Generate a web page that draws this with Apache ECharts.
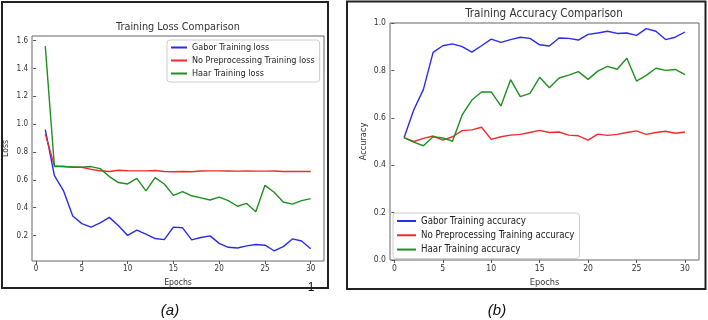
<!DOCTYPE html>
<html><head><meta charset="utf-8">
<script src="https://cdn.jsdelivr.net/npm/echarts@6/dist/echarts.min.js"></script>
<style>html,body{margin:0;padding:0;background:#fff}#c{width:708px;height:320px}</style>
</head><body><div id="c"></div>
<script>
const epochs = Array.from({length: 30}, (_, i) => i + 1);
const xTicks = [0, 5, 10, 15, 20, 25, 30];
const lossTicks = [0.2, 0.4, 0.6, 0.8, 1.0, 1.2, 1.4, 1.6];
const accTicks = [0.0, 0.2, 0.4, 0.6, 0.8, 1.0];

const gaborLoss = [0.96,0.63,0.52,0.34,0.285,0.26,0.29,0.33,0.27,0.20,0.238,0.21,0.178,0.17,0.26,0.255,0.168,0.185,0.197,0.143,0.115,0.11,0.125,0.135,0.13,0.09,0.12,0.175,0.16,0.105];
const noPreLoss = [0.93,0.70,0.695,0.69,0.69,0.675,0.665,0.66,0.668,0.665,0.664,0.664,0.667,0.66,0.658,0.66,0.658,0.663,0.664,0.664,0.663,0.662,0.663,0.662,0.662,0.663,0.66,0.66,0.66,0.66];
const haarLoss = [1.56,0.695,0.695,0.693,0.69,0.695,0.68,0.623,0.58,0.57,0.61,0.52,0.615,0.57,0.488,0.515,0.485,0.47,0.455,0.475,0.45,0.41,0.43,0.37,0.56,0.51,0.44,0.425,0.45,0.465];

const gaborAcc = [0.516,0.633,0.72,0.876,0.904,0.912,0.90,0.877,0.904,0.932,0.918,0.93,0.94,0.935,0.908,0.903,0.937,0.935,0.928,0.952,0.958,0.965,0.956,0.958,0.948,0.976,0.965,0.93,0.94,0.962];
const noPreAcc = [0.516,0.50,0.513,0.523,0.506,0.52,0.546,0.549,0.56,0.509,0.52,0.527,0.53,0.538,0.547,0.538,0.54,0.527,0.524,0.506,0.531,0.526,0.53,0.538,0.545,0.53,0.538,0.543,0.535,0.54];
const haarAcc = [0.516,0.497,0.482,0.52,0.515,0.501,0.612,0.675,0.709,0.709,0.65,0.761,0.689,0.703,0.771,0.727,0.768,0.78,0.795,0.762,0.797,0.817,0.805,0.851,0.755,0.779,0.809,0.80,0.804,0.782];

const BLUE = '#2b2bef', RED = '#ef2b2b', GREEN = '#1f8f1f';
const FONT = '"DejaVu Sans Condensed", "DejaVu Sans", sans-serif';
const TXT = '#333';
const S = [1, 1.07]; // per-panel text scale

function pairs(v){ return epochs.map((e,i)=>[e,v[i]]); }
function xAx(gi){
  const s = S[gi];
  return {type:'value', gridIndex:gi, min:-0.45, max:31.45,
    name:'Epochs', nameLocation:'middle', nameGap:16,
    nameTextStyle:{fontFamily:FONT,fontSize:8.6*s,color:TXT},
    axisLine:{show:false}, splitLine:{show:false},
    axisTick:{show:true, inside:false, length:3, customValues:xTicks, lineStyle:{color:'#555'}},
    axisLabel:{customValues:xTicks, fontFamily:FONT, fontSize:8*s, color:TXT, margin:4}};
}
function yAx(gi,min,max,ticks,name,gap){
  const s = S[gi];
  return {type:'value', gridIndex:gi, min:min, max:max, name:name, nameLocation:'middle', nameGap:gap,
    nameTextStyle:{fontFamily:FONT,fontSize:8.6*s,color:TXT},
    axisLine:{show:false}, splitLine:{show:false},
    axisTick:{show:true, inside:false, length:3, customValues:ticks, lineStyle:{color:'#555'}},
    axisLabel:{customValues:ticks, fontFamily:FONT, fontSize:8*s, color:TXT, margin:4,
      formatter:v=>Number(v).toFixed(1)}};
}
function ser(name,data,color,gi){
  return {name:name, type:'line', xAxisIndex:gi, yAxisIndex:gi, data:pairs(data), symbol:'none',
    lineStyle:{color:color,width:1.4}, itemStyle:{color:color}, z:3};
}
function legend(gi, left, top, names, iw){
  const s = S[gi];
  return {orient:'vertical', left:left, top:top, data:names,
    itemWidth:iw, itemHeight:9*s, itemGap:4*s, itemStyle:{opacity:0},
    backgroundColor:'rgba(255,255,255,0.8)', borderColor:'#ccc', borderWidth:1, borderRadius:3,
    padding:[3,5,4,3], textStyle:{fontFamily:FONT,fontSize:9*s,color:'#222'}};
}

const chart = echarts.init(document.getElementById('c'), null, {renderer:'canvas'});
chart.setOption({
  animation:false,
  title:[
    {text:'Training Loss Comparison', left:178, top:21.5, textAlign:'center', padding:0,
     textStyle:{fontFamily:FONT,fontSize:10.8,fontWeight:'normal',color:TXT}},
    {text:'Training Accuracy Comparison', left:544, top:7.5, textAlign:'center', padding:0,
     textStyle:{fontFamily:FONT,fontSize:11.6,fontWeight:'normal',color:TXT}}
  ],
  grid:[
    {left:32, top:36, width:292, height:225, show:true, borderColor:'#666', borderWidth:1, backgroundColor:'transparent'},
    {left:390, top:23, width:309, height:237, show:true, borderColor:'#666', borderWidth:1, backgroundColor:'transparent'}
  ],
  xAxis:[xAx(0), xAx(1)],
  yAxis:[yAx(0,0.0165,1.633,lossTicks,'Loss',22), yAx(1,0,1,accTicks,'Accuracy',22)],
  legend:[
    legend(0, 167, 40, ['Gabor Training loss','No Preprocessing Training loss','Haar Training loss'], 16),
    legend(1, 393, 213, ['Gabor Training accuracy','No Preprocessing Training accuracy','Haar Training accuracy'], 19)
  ],
  series:[
    ser('Gabor Training loss',gaborLoss,BLUE,0),
    ser('No Preprocessing Training loss',noPreLoss,RED,0),
    ser('Haar Training loss',haarLoss,GREEN,0),
    ser('Gabor Training accuracy',gaborAcc,BLUE,1),
    ser('No Preprocessing Training accuracy',noPreAcc,RED,1),
    ser('Haar Training accuracy',haarAcc,GREEN,1)
  ],
  graphic:[
    {type:'rect', shape:{x:2,y:2,width:326,height:286}, style:{fill:'none',stroke:'#222',lineWidth:2}, z:10},
    {type:'rect', shape:{x:347,y:1.5,width:358.5,height:287.5}, style:{fill:'none',stroke:'#222',lineWidth:2}, z:10},
    {type:'text', x:170, y:311, style:{text:'(a)', font:'italic 15px "Liberation Sans"', fill:'#111', textAlign:'center', textVerticalAlign:'middle'}},
    {type:'text', x:497, y:311, style:{text:'(b)', font:'italic 15px "Liberation Sans"', fill:'#111', textAlign:'center', textVerticalAlign:'middle'}},
    {type:'text', x:311, y:288, style:{text:'1', font:'12px "Liberation Sans"', fill:'#111', textAlign:'center', textVerticalAlign:'middle'}, z:9}
  ]
});
</script></body></html>
